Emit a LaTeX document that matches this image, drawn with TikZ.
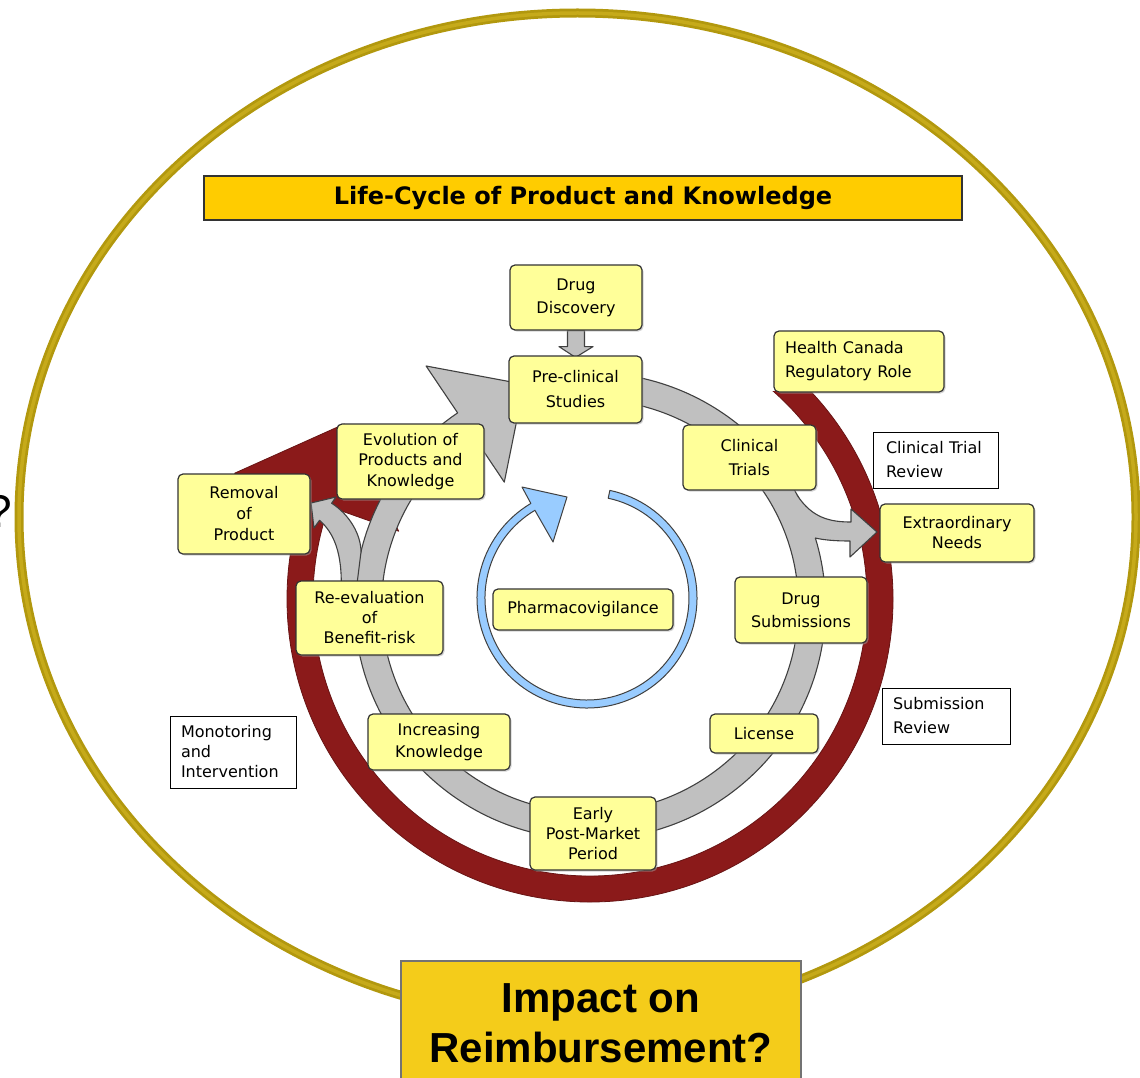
\documentclass[tikz,border=0pt]{standalone}
\usepackage{fontspec}
\setmainfont{DejaVu Sans}
\newfontfamily\arialfont{Liberation Sans}
\usetikzlibrary{shadows}
\pgfdeclarelayer{bg}
\pgfsetlayers{bg,main}
\definecolor{boxy}{RGB}{255,255,153}
\definecolor{titley}{RGB}{255,204,0}
\definecolor{impy}{RGB}{244,204,26}
\definecolor{redc}{RGB}{139,26,26}
\definecolor{grayc}{RGB}{192,192,192}
\definecolor{bluec}{RGB}{153,204,255}
\definecolor{goldA}{RGB}{178,152,14}
\definecolor{goldB}{RGB}{198,170,26}
\newcommand\lsp[1]{\fontsize{16}{#1}\selectfont}
\begin{document}
\begin{tikzpicture}[x=1pt,y=-1pt,
  ybox/.style={draw=black!80, line width=1.2pt, fill=boxy, rounded corners=5pt,
    align=center, inner sep=0pt,
    drop shadow={shadow xshift=1.5pt, shadow yshift=-1.5pt, fill=black!35}},
  wbox/.style={draw=black, line width=1pt, fill=white, align=left, inner sep=0pt},
  gshape/.style={fill=grayc, draw=black!75, line width=1.1pt, line join=round},
  gline/.style={draw=black!75, line width=1.1pt, line join=round},
  rshape/.style={fill=redc, draw=redc!75!black, line width=0.8pt, line join=round},
  bshape/.style={fill=bluec, draw=black!75, line width=1pt, line join=round}]
\useasboundingbox (0,0) rectangle (1140,1078);

% ---------- nodes ----------
\node[draw=black!80, line width=1.5pt, fill=titley, minimum width=758pt, minimum height=44pt,
  inner sep=0pt, font=\bfseries\fontsize{24}{28}\selectfont] (title) at (583,198)
  {Life-Cycle of Product and Knowledge};

\node[ybox, minimum width=132pt, minimum height=65pt, font=\lsp{23}] (dd) at (576,297.5) {Drug\\Discovery};
\node[ybox, minimum width=133pt, minimum height=67pt, font=\lsp{25}] (pc) at (575.5,389.5) {Pre-clinical\\Studies};
\node[ybox, align=left, text width=148pt, inner xsep=11pt, minimum height=61pt, font=\lsp{24}] (hc) at (859,361.5) {Health Canada\\Regulatory Role};
\node[ybox, minimum width=133pt, minimum height=65pt, font=\lsp{24}] (ct) at (749.5,457.5) {Clinical\\Trials};
\node[wbox, text width=99pt, inner xsep=13pt, minimum height=56pt, font=\lsp{24}] (ctr) at (935.5,460) {Clinical Trial\\Review};
\node[ybox, minimum width=154pt, minimum height=58pt, font=\lsp{20}] (en) at (957,533) {Extraordinary\\Needs};
\node[ybox, minimum width=132pt, minimum height=66pt, font=\lsp{23}] (ds) at (801,610) {Drug\\Submissions};
\node[ybox, minimum width=180pt, minimum height=41pt, font=\lsp{20}] (pv) at (583,609.5) {Pharmacovigilance};
\node[wbox, text width=106pt, inner xsep=11pt, minimum height=56pt, font=\lsp{24}] (sr) at (946,716) {Submission\\Review};
\node[ybox, minimum width=108pt, minimum height=39pt, font=\lsp{20}] (lic) at (764,733.5) {License};
\node[ybox, minimum width=126pt, minimum height=73pt, font=\lsp{20}] (ep) at (593,833.5) {Early\\Post-Market\\Period};
\node[ybox, minimum width=142pt, minimum height=56pt, font=\lsp{22}] (ik) at (439,742) {Increasing\\Knowledge};
\node[wbox, text width=104pt, inner xsep=11pt, minimum height=72pt, font=\lsp{20}] (mi) at (233,752) {Monotoring\\and\\Intervention};
\node[ybox, minimum width=147pt, minimum height=74pt, font=\lsp{20}] (re) at (369.5,618) {Re-evaluation\\of\\Benefit-risk};
\node[ybox, minimum width=132pt, minimum height=80pt, font=\lsp{21}] (rp) at (244,514) {Removal\\of\\Product};
\node[ybox, minimum width=147pt, minimum height=75pt, font=\lsp{20.5}] (ev) at (410.5,461.5) {Evolution of\\Products and\\Knowledge};

\node[draw=black!55, line width=1.6pt, fill=impy, minimum width=400pt, minimum height=124pt,
  inner sep=0pt, align=center, font=\arialfont\bfseries\fontsize{42}{50}\selectfont] (imp) at (601,1023)
  {Impact on\\Reimbursement?};

\node[anchor=base east, inner sep=0pt, font=\arialfont\fontsize{46}{46}\selectfont] (q) at (12,527) {?};

% ---------- background shapes ----------
\begin{pgfonlayer}{bg}
  % gold frame
  \draw[line width=9pt, goldA] (577.5,517) ellipse[x radius=558.5, y radius=504];
  \draw[line width=3.5pt, goldB] (577.5,517) ellipse[x radius=558.5, y radius=504];

  % red regulatory arrow
  \begin{scope}
    \clip (0,391.5) rectangle (1140,1078);
    \filldraw[rshape] (590,599) ++(-50:303) arc[start angle=-50, end angle=199.5, radius=303]
      -- (234.6,473.2) -- (344.3,424) -- (398.7,531.2)
      -- (328.9,506.5) arc[start angle=199.5, end angle=-50, radius=277] -- cycle;
  \end{scope}

  % grey life-cycle ring
  \filldraw[gshape] (590,606) ++(-88:235.5 and 233.5)
      arc[start angle=-88, end angle=235.8, x radius=235.5, y radius=233.5]
      -- (426.1,366) -- (524.1,384.3) -- (504.3,482.1)
      -- (472.8,435.2) arc[start angle=235.8, end angle=-88, x radius=208.5, y radius=206.5] -- cycle;

  % branch: clinical trials -> extraordinary needs
  \fill[grayc] (790,497) -- (797,495) .. controls (812,518) and (830,522) .. (851,522)
      -- (851,509) -- (877,532) -- (850,557) -- (850,541)
      .. controls (835,541) and (824,540) .. (815,538) -- (800,540) -- cycle;
  \draw[gline] (797,495) .. controls (812,518) and (830,522) .. (851,522)
      -- (851,509) -- (877,532) -- (850,557) -- (850,541)
      .. controls (835,541) and (824,540) .. (815,538);

  % branch: re-evaluation -> removal
  \filldraw[gshape] (356,592) -- (361,552) .. controls (361,535) and (350,515) .. (331.6,503.2)
      -- (336,497) -- (311,503) -- (314,528) -- (319.5,520.3)
      .. controls (333,532) and (343,552) .. (341,592) -- cycle;

  % drug discovery -> pre-clinical
  \filldraw[gshape] ([xshift=-8.5pt]dd.south) -- ([xshift=8.5pt]dd.south)
      -- ([xshift=8.5pt,yshift=-16pt]dd.south) -- ([xshift=17pt,yshift=-16pt]dd.south)
      -- ([yshift=-2pt]pc.north) -- ([xshift=-17pt,yshift=-16pt]dd.south)
      -- ([xshift=-8.5pt,yshift=-16pt]dd.south) -- cycle;

  % blue pharmacovigilance arrow
  \filldraw[bshape] (587,598) ++(-78:110) arc[start angle=-78, end angle=239.3, radius=110]
      -- (522,487) -- (567,497) -- (553,542)
      -- (534.9,510.3) arc[start angle=239.3, end angle=-78, radius=102] -- cycle;
\end{pgfonlayer}
\end{tikzpicture}
\end{document}
